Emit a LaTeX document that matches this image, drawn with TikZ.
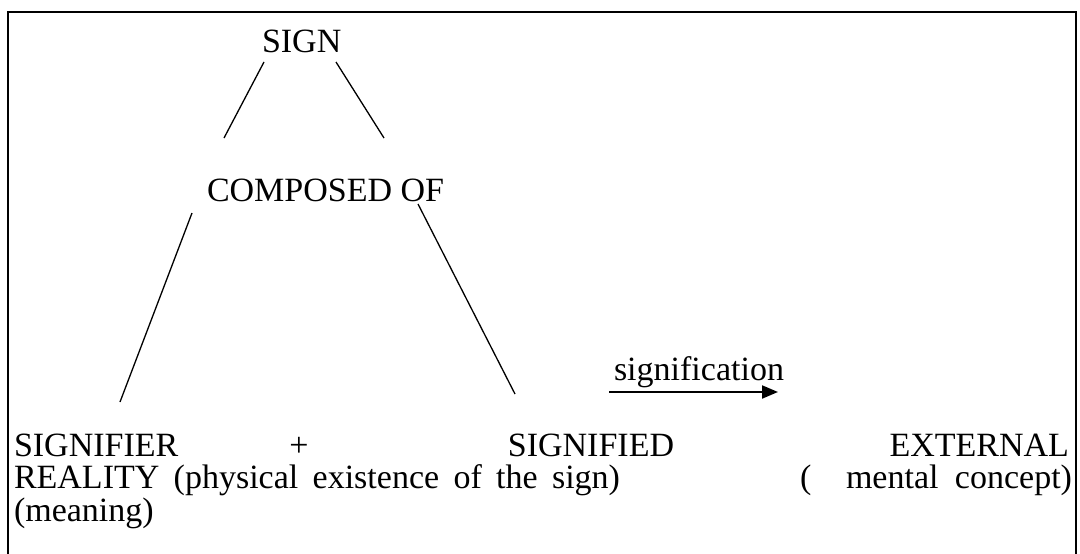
\documentclass[tikz,border=0pt]{standalone}
\usepackage{fontspec}
\setmainfont{Liberation Serif}
\usetikzlibrary{positioning, arrows.meta}

\begin{document}
\begin{tikzpicture}[
  x=1pt, y=-1pt,
  every node/.style={inner sep=0pt, outer sep=0pt, font=\fontsize{34}{40}\selectfont},
  link/.style={line width=1.3pt},
  sigarrow/.style={line width=2pt, -{Triangle[length=16pt,width=13pt]}}
]
\useasboundingbox (0,0) rectangle (1080,554);

% frame, open at the bottom
\draw[line width=2.2pt] (8,554) -- (8,12) -- (1076,12) -- (1076,554);

% top of the tree
\node[anchor=base west] (sign) at (262,52) {SIGN};
\node[anchor=base west] (composed) at (207,201) {COMPOSED OF};

% bottom text
\node[anchor=base west] (signifier) at (14,456) {SIGNIFIER};
\node[anchor=base] (plus) at (299,456) {+};
\node[anchor=base] (signified) at (591,456) {SIGNIFIED};
\node[anchor=base east] (external) at (1069,456) {EXTERNAL};
\node[anchor=base west] (reality) at (14,488) {\makebox[606pt][s]{REALITY (physical existence of the sign)}};
\node[anchor=base west] (paren) at (800,488) {(};
\node[anchor=base east] (concept) at (1072,488) {\makebox[226pt][s]{mental concept)}};
\node[anchor=base west] (meaning) at (14,521) {(meaning)};

% signification
\node[anchor=base west] (signification) at (614,380) {signification};
\coordinate (sigstart) at (609,392);
\coordinate (sigend) at (778,392);

% line ends
\coordinate (signL) at (264,62);
\coordinate (compL) at (224,138);
\coordinate (signR) at (336,62);
\coordinate (compR) at (384,138);
\coordinate (compLL) at (192,213);
\coordinate (signifierTop) at (120,402);
\coordinate (compRR) at (418,204);
\coordinate (signifiedTop) at (515,394);

% Connections
\draw[link] (signL) -- (compL);
\draw[link] (signR) -- (compR);
\draw[link] (compLL) -- (signifierTop);
\draw[link] (compRR) -- (signifiedTop);
\draw[sigarrow] (sigstart) -- (sigend);

\end{tikzpicture}
\end{document}
